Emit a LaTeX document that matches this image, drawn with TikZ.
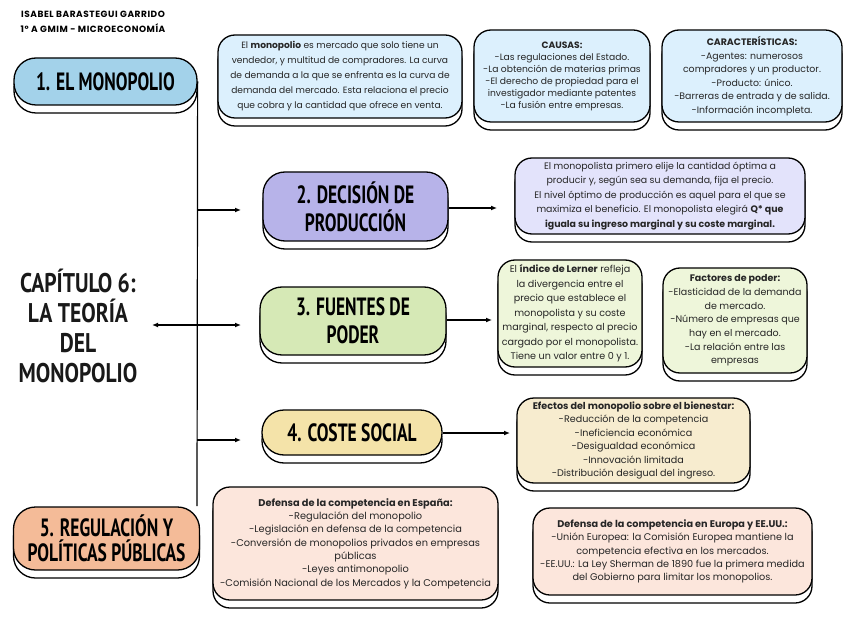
\documentclass[tikz,border=0pt]{standalone}
\usepackage{fontspec}
\setmainfont{Poppins}
\newfontfamily\headfont[FakeStretch=0.7]{PT Sans}
\newfontfamily\titlefont[FakeStretch=0.8]{PT Sans}
\newfontfamily\authfont[LetterSpace=6]{Poppins}
\usetikzlibrary{shadows,arrows.meta}
\definecolor{hblue}{HTML}{A3D2EA}
\definecolor{lblue}{HTML}{DCF0FD}
\definecolor{hlav}{HTML}{B7B3E9}
\definecolor{llav}{HTML}{E3E3FB}
\definecolor{hgreen}{HTML}{D6E9B6}
\definecolor{lgreen}{HTML}{EEF6DA}
\definecolor{hyel}{HTML}{F4E3A9}
\definecolor{lyel}{HTML}{F7ECCF}
\definecolor{hora}{HTML}{F4BB98}
\definecolor{lora}{HTML}{FCE6DC}
\definecolor{txt}{HTML}{262626}
\tikzset{
  boxbase/.style={draw=black, line width=1.3pt, align=center, inner sep=0pt,
    copy shadow={shadow xshift=0pt, shadow yshift=-8pt, fill=white, draw=black, line width=1.3pt}},
  headbox/.style={boxbase, rounded corners=22pt, font=\headfont\bfseries\fontsize{25}{28}\selectfont, text=black},
  descbox/.style={boxbase, rounded corners=17pt, text=txt},
  trunk/.style={line width=1.2pt, draw=black},
  arr/.style={line width=1.2pt, draw=black, -{Latex[length=6pt,width=5pt]}},
  fs/.style 2 args={font=\fontsize{#1}{#2}\selectfont}
}
\begin{document}
\begin{tikzpicture}[x=1pt,y=-1pt]
\useasboundingbox[fill=white] (0,0) rectangle (848,636);

% author
\node[font=\authfont\bfseries\fontsize{9}{15}\selectfont, align=center, text=black] (auth) at (93,22)
  {ISABEL BARASTEGUI GARRIDO\\1º A GMIM - MICROECONOMÍA};

% heading boxes
\node[headbox, fill=hblue, minimum width=183pt, minimum height=47pt] (h1) at (105.5,81.5) {1. EL MONOPOLIO};
\node[headbox, fill=hlav, minimum width=185pt, minimum height=69pt] (h2) at (355.5,206.5) {2. DECISIÓN DE\\PRODUCCIÓN};
\node[headbox, fill=hgreen, minimum width=186pt, minimum height=68pt] (h3) at (353,321) {3. FUENTES DE\\PODER};
\node[headbox, fill=hyel, minimum width=180pt, minimum height=45pt] (h4) at (352,432.5) {4. COSTE SOCIAL};
\node[headbox, fill=hora, minimum width=186pt, minimum height=63pt, font=\headfont\bfseries\fontsize{25}{25}\selectfont] (h5) at (106.5,538.5) {5. REGULACIÓN Y\\POLÍTICAS PÚBLICAS};

% chapter title
\node[font=\titlefont\bfseries\fontsize{27}{30}\selectfont, align=center, text=black!90] (title) at (78,326)
  {CAPÍTULO 6:\\LA TEORÍA\\DEL\\MONOPOLIO};

% description boxes
\node[descbox, fill=lblue, minimum width=244pt, minimum height=83pt, fs={9.1}{15}] (d1) at (340,76.5)
  {El \textbf{monopolio} es mercado que solo tiene un\\vendedor, y multitud de compradores. La curva\\de demanda a la que se enfrenta es la curva de\\demanda del mercado. Esta relaciona el precio\\que cobra y la cantidad que ofrece en venta.};
\node[descbox, fill=lblue, minimum width=176pt, minimum height=92pt, fs={9.2}{12}] (caus) at (562,76)
  {\textbf{CAUSAS:}\\-Las regulaciones del Estado.\\-La obtención de materias primas\\-El derecho de propiedad para el\\investigador mediante patentes\\-La fusión entre empresas.};
\node[descbox, fill=lblue, minimum width=180pt, minimum height=92pt, fs={9.4}{13.5}] (car) at (752,76)
  {\textbf{CARACTERÍSTICAS:}\\-Agentes: numerosos\\compradores y un productor.\\-Producto: único.\\-Barreras de entrada y de salida.\\-Información incompleta.};
\node[descbox, fill=llav, minimum width=290pt, minimum height=76pt, fs={9.4}{14.5}] (d2) at (660,196)
  {El monopolista primero elije la cantidad óptima a\\producir y, según sea su demanda, fija el precio.\\El nivel óptimo de producción es aquel para el que se\\maximiza el beneficio. El monopolista elegirá \textbf{Q* que}\\\textbf{iguala su ingreso marginal y su coste marginal.}};
\node[descbox, fill=lgreen, minimum width=144pt, minimum height=107pt, fs={9.6}{14.5}] (ler) at (570,313.5)
  {El \textbf{índice de Lerner} refleja\\la divergencia entre el\\precio que establece el\\monopolista y su coste\\marginal, respecto al precio\\cargado por el monopolista.\\Tiene un valor entre 0 y 1.};
\node[descbox, fill=lgreen, minimum width=144pt, minimum height=105pt, fs={9.5}{13.7}] (fac) at (735,320.5)
  {\textbf{Factores de poder:}\\-Elasticidad de la demanda\\de mercado.\\-Número de empresas que\\hay en el mercado.\\-La relación entre las\\empresas};
\node[descbox, fill=lyel, minimum width=233pt, minimum height=85pt, fs={9.6}{13.5}] (efe) at (633.5,440.5)
  {\textbf{Efectos del monopolio sobre el bienestar:}\\-Reducción de la competencia\\-Ineficiencia económica\\-Desigualdad económica\\-Innovación limitada\\-Distribución desigual del ingreso.};
\node[descbox, fill=lora, minimum width=285pt, minimum height=113pt, fs={9.8}{13.3}] (esp) at (355.5,543.5)
  {\textbf{Defensa de la competencia en España:}\\-Regulación del monopolio\\-Legislación en defensa de la competencia\\-Conversión de monopolios privados en empresas\\públicas\\-Leyes antimonopolio\\-Comisión Nacional de los Mercados y la Competencia};
\node[descbox, fill=lora, minimum width=279pt, minimum height=87pt, fs={9.7}{13.3}] (eur) at (672.5,551.5)
  {\textbf{Defensa de la competencia en Europa y EE.UU.:}\\-Unión Europea: la Comisión Europea mantiene la\\competencia efectiva en los mercados.\\-EE.UU.: La Ley Sherman de 1890 fue la primera medida\\del Gobierno para limitar los monopolios.};

% trunk
\coordinate (tt) at (h1.east);
\coordinate (tb) at (197,506);
\draw[trunk] (tt) -- (tb);
\coordinate (j2) at (197,210);
\coordinate (j3) at (197,325);
\coordinate (j4) at (197,440);
\coordinate (e2) at (241,210);
\coordinate (e3) at (241,325);
\coordinate (e4) at (241,440);
\coordinate (et) at (152,325);
\draw[arr] (j2) -- (e2);
\draw[arr] (j3) -- (e3);
\draw[arr] (j4) -- (e4);
\draw[arr] (j3) -- (et);

% heading to description arrows
\coordinate (a2) at (497,208);
\coordinate (a3) at (492,320);
\coordinate (a4) at (510,433);
\draw[arr] (h2.east |- a2) -- (a2);
\draw[arr] (h3.east |- a3) -- (a3);
\draw[arr] (h4.east |- a4) -- (a4);
\end{tikzpicture}
\end{document}
